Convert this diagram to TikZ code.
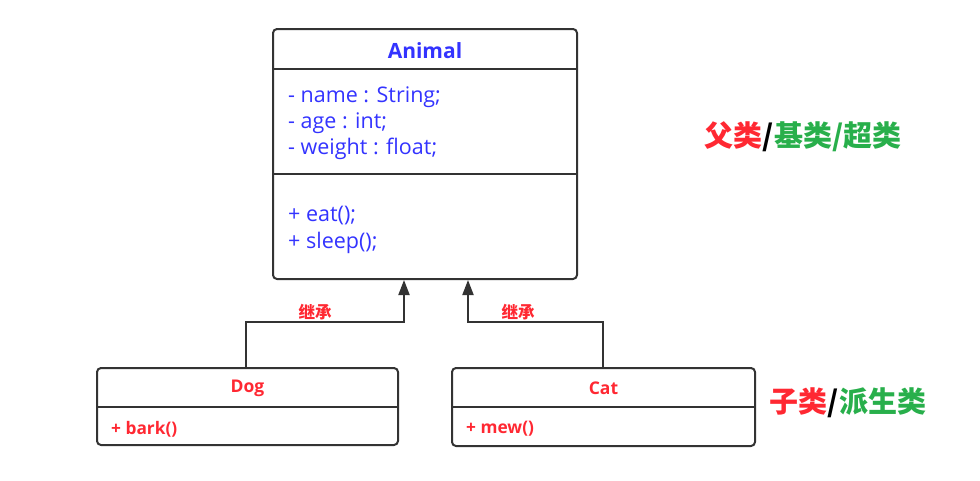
\documentclass[tikz,border=0pt]{standalone}
\usepackage{fontspec}
\setmainfont{Open Sans}
\newfontfamily\cjk{Noto Sans CJK SC}
\usetikzlibrary{arrows.meta}
\definecolor{cblue}{RGB}{51,51,255}
\definecolor{cred}{RGB}{255,40,50}
\definecolor{cgreen}{RGB}{40,175,75}
\definecolor{cline}{RGB}{51,51,51}
\tikzset{
  box/.style={draw=cline, line width=2pt, rounded corners=4pt},
  sep/.style={draw=cline, line width=1.6pt},
  conn/.style={draw=cline, line width=2pt, -{Triangle[length=15pt,width=11pt]}},
  btxt/.style={anchor=west, text=cblue, font=\fontsize{21.5}{25}\selectfont, inner sep=0pt},
  rtxt/.style={anchor=west, text=cred, font=\bfseries\fontsize{17.3}{20}\selectfont, inner sep=0pt},
  lbl/.style={text=cred, font=\cjk\bfseries\fontsize{16.5}{19}\selectfont, inner sep=0pt},
}
\begin{document}
\begin{tikzpicture}[x=1pt,y=-1pt]
\useasboundingbox (0,0) rectangle (980,480);
% Animal
\draw[box] (273,29) rectangle (577,279);
\draw[sep] (273,69) -- (577,69);
\draw[sep] (273,174) -- (577,174);
\node[text=cblue, font=\bfseries\fontsize{21}{25}\selectfont, inner sep=0pt] (animalname) at (425,50.5) {Animal};
\node[btxt] (a1) at (288,97) {- name : String;};
\node[btxt] (a2) at (288,123) {- age : int;};
\node[btxt] (a3) at (288,149) {- weight : float;};
\node[btxt] (m1) at (288,216) {+ eat();};
\node[btxt] (m2) at (288,243) {+ sleep();};
% Dog
\draw[box] (97,368) rectangle (398,445);
\draw[sep] (97,407) -- (398,407);
\node[text=cred, font=\bfseries\fontsize{17.5}{20}\selectfont, inner sep=0pt] (dogname) at (247.5,388.5) {Dog};
\node[rtxt] (bark) at (111,429) {+ bark()};
% Cat
\draw[box] (452,368) rectangle (755,446);
\draw[sep] (452,407) -- (755,407);
\node[text=cred, font=\bfseries\fontsize{17.5}{20}\selectfont, inner sep=0pt] (catname) at (603.5,388.5) {Cat};
\node[rtxt] (mew) at (466,429) {+ mew()};
% connectors
\coordinate (dtop) at (246,368);
\coordinate (ctop) at (603,368);
\coordinate (aL) at (404,280);
\coordinate (aR) at (468,280);
\draw[conn] (dtop) -- (246,322) -- (404,322) -- (aL);
\draw[conn] (ctop) -- (603,322) -- (468,322) -- (aR);
\node[lbl] (l1) at (315,312) {继承};
\node[lbl] (l2) at (518,312) {继承};
% side labels
\node[font=\cjk\bfseries\fontsize{29}{34}\selectfont, inner sep=0pt] (parent) at (803,137) {\textcolor{cred}{父类}/\textcolor{cgreen}{基类/超类}};
\node[font=\cjk\bfseries\fontsize{29}{34}\selectfont, inner sep=0pt] (child) at (848,403) {\textcolor{cred}{子类}/\textcolor{cgreen}{派生类}};
\end{tikzpicture}
\end{document}
